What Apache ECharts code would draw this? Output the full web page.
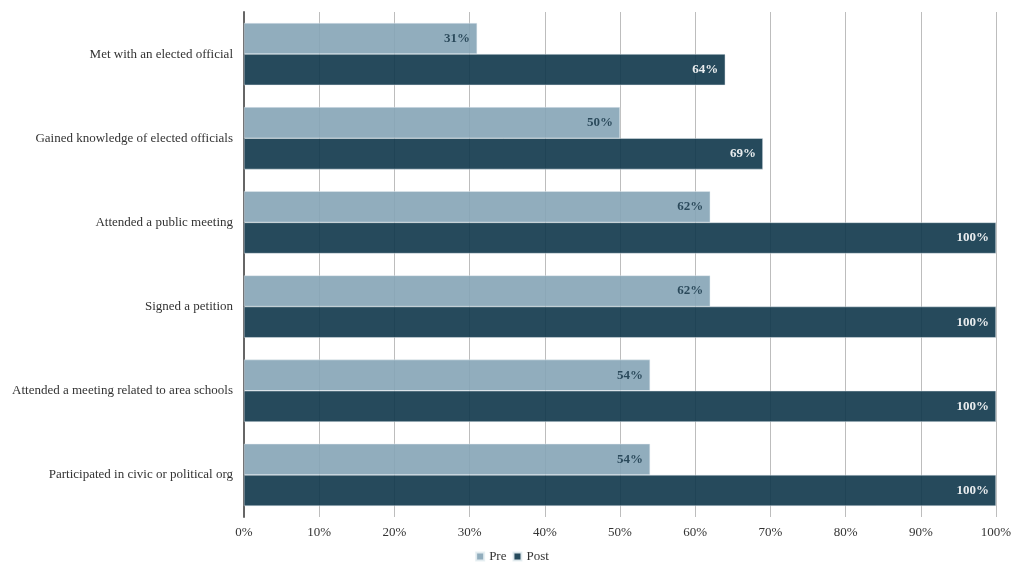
<!DOCTYPE html>
<html>
<head>
<meta charset="utf-8">
<script src="https://cdn.jsdelivr.net/npm/echarts@6/dist/echarts.min.js"></script>
<style>
  html, body { margin: 0; padding: 0; background: #fff; }
  #chart { width: 1024px; height: 574px; }
</style>
</head>
<body>
<div id="chart"></div>
<script>
// ---- data ----
const categories = [
  'Met with an elected official',
  'Gained knowledge of elected officials',
  'Attended a public meeting',
  'Signed a petition',
  'Attended a meeting related to area schools',
  'Participated in civic or political org'
]
const preValues = [31, 50, 62, 62, 54, 54]
const postValues = [64, 69, 100, 100, 100, 100]
const xTicks = { min: 0, max: 100, step: 10 }

const serif = '"Liberation Serif", "DejaVu Serif", serif'

const chart = echarts.init(document.getElementById('chart'))

// 数据标签：柱内右侧，粗体
function barLabel(color) {
  return {
    show: true,
    position: 'insideRight',
    distance: 7,
    formatter: p => p.value + '%',
    color: color,
    fontFamily: serif,
    fontWeight: 'bold',
    fontSize: 13
  }
}

chart.setOption({
  animation: false,
  grid: { left: 244, right: 28, top: 12, bottom: 57, containLabel: false, outerBoundsMode: 'none' },
  legend: {
    bottom: 6,
    left: 'center',
    icon: 'rect',
    itemWidth: 8,
    itemHeight: 8,
    itemGap: 6,
    textStyle: { fontFamily: serif, fontSize: 13, color: '#333' },
    data: ['Pre', 'Post']
  },
  xAxis: {
    type: 'value',
    min: xTicks.min,
    max: xTicks.max,
    interval: xTicks.step,
    axisLine: { show: false },
    axisTick: { show: false },
    axisLabel: {
      formatter: '{value}%',
      color: '#333',
      fontFamily: serif,
      fontSize: 13,
      margin: 9
    },
    splitLine: { show: true, lineStyle: { color: '#bdbdbd', width: 1 } }
  },
  yAxis: {
    type: 'category',
    inverse: true,
    data: categories,
    axisLine: { show: true, lineStyle: { color: '#666', width: 2 } },
    axisTick: { show: false },
    axisLabel: {
      color: '#333',
      fontFamily: serif,
      fontSize: 13,
      margin: 11
    }
  },
  series: [
    {
      name: 'Pre',
      type: 'bar',
      data: preValues,
      barGap: '0%',
      barCategoryGap: '26%',
      itemStyle: { color: '#85a4b6', opacity: 0.9, borderColor: '#e6eef2', borderWidth: 0.5 },
      label: barLabel('#1f3e50')
    },
    {
      name: 'Post',
      type: 'bar',
      data: postValues,
      barGap: '0%',
      barCategoryGap: '26%',
      itemStyle: { color: '#0e364a', opacity: 0.9, borderColor: '#e6eef2', borderWidth: 0.5 },
      label: barLabel('#ffffff')
    }
  ]
})
</script>
</body>
</html>
